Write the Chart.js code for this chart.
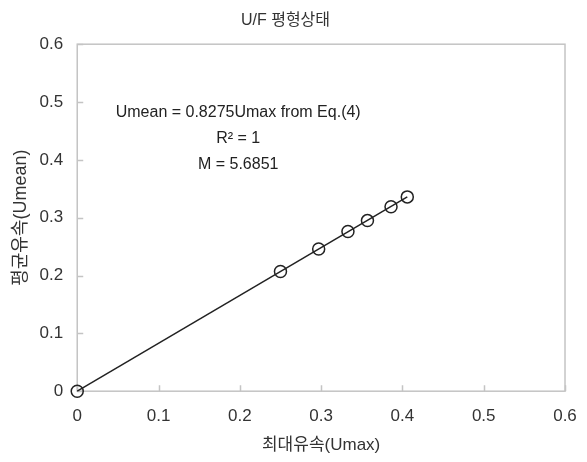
<!DOCTYPE html>
<html>
<head>
<meta charset="utf-8">
<script src="https://cdn.jsdelivr.net/npm/chart.js@4.4.0/dist/chart.umd.min.js"></script>
<style>
  html, body { margin: 0; padding: 0; background: #fff; }
  #wrap { width: 587px; height: 462px; }
</style>
</head>
<body>
<div id="wrap"><canvas id="chart" width="587" height="462"></canvas></div>
<script>
// Measured velocities (circles)
const uMax  = [0, 0.25, 0.297, 0.333, 0.357, 0.386, 0.406];
const uMean = [0, 0.207, 0.246, 0.276, 0.295, 0.319, 0.336];

// Fitted line Umean = 0.8275 Umax
const fitX = [0, 0.406];
const fitY = [0, 0.336];

const axisTicks = [0, 0.1, 0.2, 0.3, 0.4, 0.5, 0.6];
const noteLines = ['Umean = 0.8275Umax from Eq.(4)', 'R² = 1', 'M = 5.6851'];

const FONT = '"Liberation Sans", Arial, "Noto Sans CJK KR", sans-serif';
const INK  = '#333';

// Frame around the plot area plus inward tick marks
const framePlugin = {
  id: 'frame',
  beforeDatasetsDraw(chart) {
    const { ctx, chartArea: a, scales } = chart;
    ctx.save();
    ctx.strokeStyle = '#c4c4c4';
    ctx.lineWidth = 1.5;
    ctx.strokeRect(a.left, a.top, a.right - a.left, a.bottom - a.top);
    ctx.beginPath();
    axisTicks.forEach(v => {
      const x = Math.round(scales.x.getPixelForValue(v)) + 0.5;
      ctx.moveTo(x, a.bottom);
      ctx.lineTo(x, a.bottom - 6);
      const y = Math.round(scales.y.getPixelForValue(v)) + 0.5;
      ctx.moveTo(a.left, y);
      ctx.lineTo(a.left + 6, y);
    });
    ctx.stroke();
    ctx.restore();
  },
  afterDraw(chart) {
    const { ctx, scales } = chart;
    // equation note
    ctx.save();
    ctx.fillStyle = '#222';
    ctx.font = '16px ' + FONT;
    ctx.textAlign = 'center';
    ctx.textBaseline = 'middle';
    const cx = scales.x.getPixelForValue(0.198);
    noteLines.forEach((t, i) => {
      ctx.fillText(t, cx, scales.y.getPixelForValue(0.481 - i * 0.045));
    });
    ctx.restore();
  }
};

new Chart(document.getElementById('chart'), {
  type: 'scatter',
  data: {
    datasets: [
      {
        type: 'line',
        data: fitX.map((x, i) => ({ x, y: fitY[i] })),
        borderColor: '#222',
        borderWidth: 1.5,
        pointRadius: 0,
        fill: false,
        clip: false
      },
      {
        data: uMax.map((x, i) => ({ x, y: uMean[i] })),
        pointStyle: 'circle',
        pointRadius: 6,
        pointBorderWidth: 1.5,
        pointBorderColor: '#222',
        pointBackgroundColor: 'rgba(0,0,0,0)',
        clip: false
      }
    ]
  },
  options: {
    responsive: false,
    animation: false,
    layout: { padding: { left: 6, right: 22, top: 6, bottom: 2 } },
    plugins: {
      legend: { display: false },
      tooltip: { enabled: false },
      title: {
        display: true,
        text: 'U/F 평형상태',
        color: INK,
        font: { family: FONT, size: 16, weight: 'normal' },
        padding: { top: 5, bottom: 14 }
      }
    },
    scales: {
      x: {
        type: 'linear',
        min: 0, max: 0.6,
        afterBuildTicks: s => { s.ticks = axisTicks.map(value => ({ value })); },
        grid: { display: false },
        border: { display: false },
        ticks: { color: INK, padding: 7, font: { family: FONT, size: 17 }, callback: v => String(+v.toFixed(1)) },
        title: { display: true, text: '최대유속(Umax)', color: INK, padding: { top: 2 }, font: { family: FONT, size: 17 } }
      },
      y: {
        type: 'linear',
        min: 0, max: 0.6,
        afterBuildTicks: s => { s.ticks = axisTicks.map(value => ({ value })); },
        grid: { display: false },
        border: { display: false },
        ticks: { color: INK, padding: 6, font: { family: FONT, size: 17 }, callback: v => String(+v.toFixed(1)) },
        title: { display: true, text: '평균유속(Umean)', color: INK, padding: { bottom: 2 }, font: { family: FONT, size: 18 } }
      }
    }
  },
  plugins: [framePlugin]
});
</script>
</body>
</html>
